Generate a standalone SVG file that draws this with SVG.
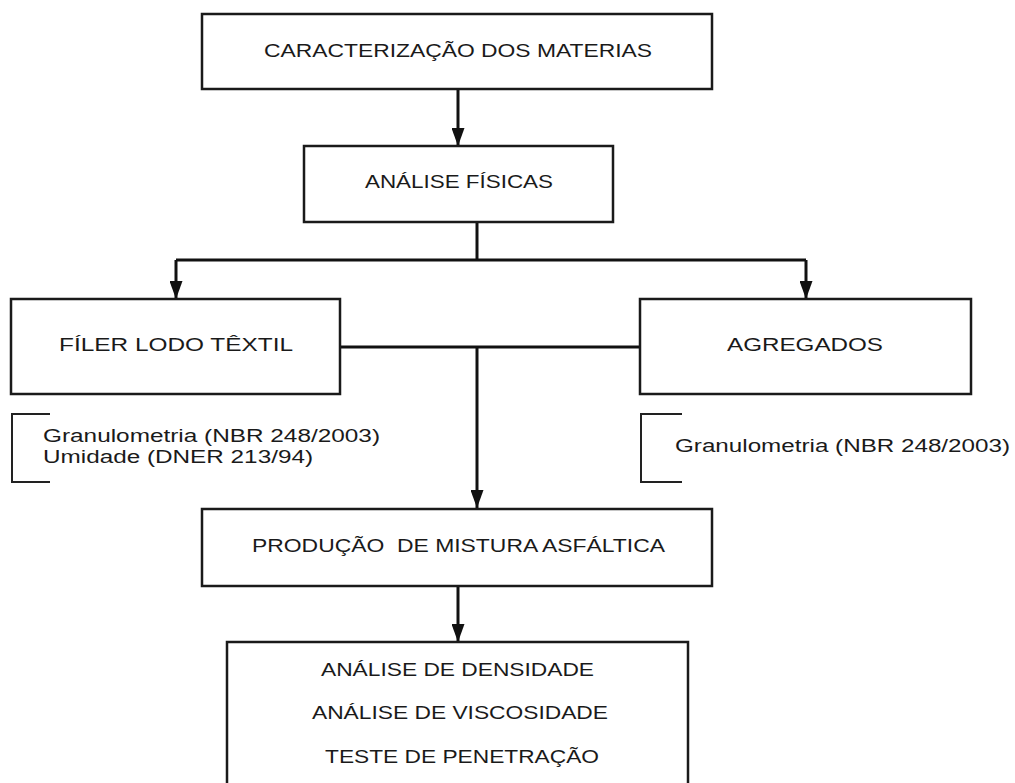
<svg xmlns="http://www.w3.org/2000/svg" width="1015" height="783" viewBox="0 0 1015 783">
<style>
.box{fill:#fff;stroke:#1a1a1a;stroke-width:2.5}
.t{font-family:"Liberation Sans",Arial,sans-serif;font-size:17.5px;fill:#1a1a1a}
.c{fill:none;stroke:#111;stroke-width:3}
.a{marker-end:url(#ah)}
.br{fill:none;stroke:#222;stroke-width:2}
</style>
<defs>
<marker id="ah" markerUnits="userSpaceOnUse" markerWidth="18" markerHeight="13" refX="18" refY="6.5" orient="auto" viewBox="0 0 18 13">
<path d="M0,0 L18,6.5 L0,13 Z" fill="#111"/>
</marker>
</defs>
<rect width="1015" height="783" fill="#fff"/>
<g id="connectors">
<path class="c a" d="M458,89 V146"/>
<path class="c" d="M477,222 V260"/>
<path class="c" d="M176,260 H806"/>
<path class="c a" d="M176,260 V299"/>
<path class="c a" d="M806,260 V299"/>
<path class="c" d="M340,347 H640"/>
<path class="c a" d="M477,347 V508"/>
<path class="c a" d="M458,586 V642"/>
</g>
<g id="n1">
<rect class="box" x="202" y="14" width="510" height="75"/>
<text class="t" x="264" y="57" textLength="388" lengthAdjust="spacingAndGlyphs">CARACTERIZAÇÃO DOS MATERIAS</text>
</g>
<g id="n2">
<rect class="box" x="304" y="146" width="309" height="76"/>
<text class="t" x="365" y="188" textLength="188" lengthAdjust="spacingAndGlyphs">ANÁLISE FÍSICAS</text>
</g>
<g id="n3">
<rect class="box" x="11" y="299" width="329" height="95"/>
<text class="t" x="59" y="351" textLength="234" lengthAdjust="spacingAndGlyphs">FÍLER LODO TÊXTIL</text>
</g>
<g id="n4">
<rect class="box" x="640" y="299" width="331" height="95"/>
<text class="t" x="727" y="351" textLength="156" lengthAdjust="spacingAndGlyphs">AGREGADOS</text>
</g>
<g id="n3-notes">
<path class="br" d="M50,414 H12 V482 H50"/>
<text class="t" x="43" y="442" textLength="337" lengthAdjust="spacingAndGlyphs">Granulometria (NBR 248/2003)</text>
<text class="t" x="43" y="463" textLength="270" lengthAdjust="spacingAndGlyphs">Umidade (DNER 213/94)</text>
</g>
<g id="n4-notes">
<path class="br" d="M682,414 H641 V482 H682"/>
<text class="t" x="675" y="452" textLength="335" lengthAdjust="spacingAndGlyphs">Granulometria (NBR 248/2003)</text>
</g>
<g id="n5">
<rect class="box" x="202" y="509" width="510" height="77"/>
<text class="t" x="252" y="552" textLength="413" lengthAdjust="spacingAndGlyphs" xml:space="preserve">PRODUÇÃO  DE MISTURA ASFÁLTICA</text>
</g>
<g id="n6">
<rect class="box" x="227" y="642" width="461" height="150"/>
<text class="t" x="321" y="676" textLength="273" lengthAdjust="spacingAndGlyphs">ANÁLISE DE DENSIDADE</text>
<text class="t" x="312" y="719" textLength="296" lengthAdjust="spacingAndGlyphs">ANÁLISE DE VISCOSIDADE</text>
<text class="t" x="325" y="763" textLength="274" lengthAdjust="spacingAndGlyphs">TESTE DE PENETRAÇÃO</text>
</g>
</svg>
